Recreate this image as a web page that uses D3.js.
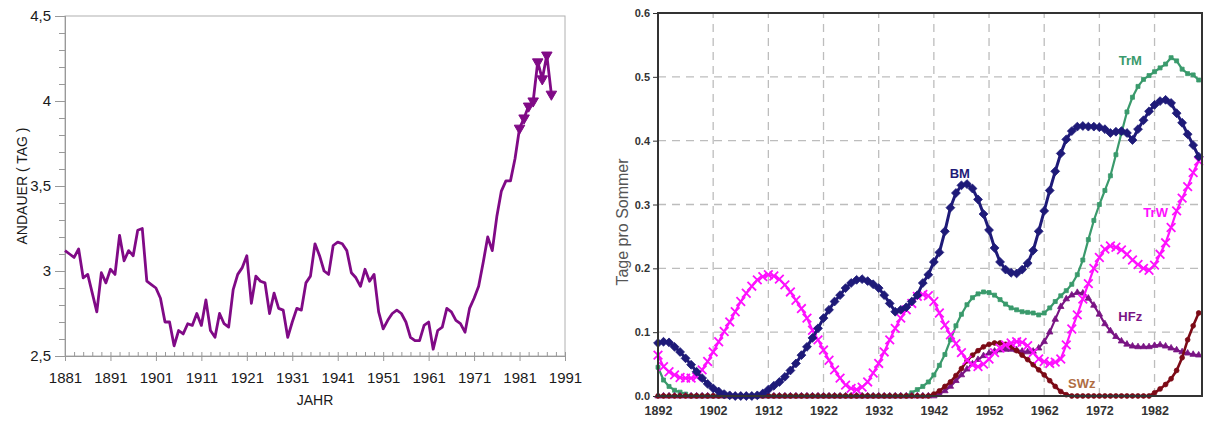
<!DOCTYPE html>
<html>
<head>
<meta charset="utf-8">
<script src="https://cdn.jsdelivr.net/npm/d3@7"></script>
<style>
  body { margin: 0; background: #fff; }
  svg { display: block; font-family: "Liberation Sans", Arial, sans-serif; }
</style>
</head>
<body>
<div id="chart"></div>
<script>
// ---- left panel: Andauer (Tag) per Jahr ----
const leftStart = 1881;
const andauer = [
  3.12, 3.10, 3.08, 3.13, 2.96, 2.98, 2.87, 2.76, 2.99, 2.93,
  3.01, 2.98, 3.21, 3.06, 3.12, 3.09, 3.24, 3.25, 2.94, 2.92,
  2.90, 2.84, 2.70, 2.70, 2.56, 2.65, 2.63, 2.69, 2.68, 2.75,
  2.68, 2.83, 2.65, 2.61, 2.75, 2.69, 2.67, 2.89, 2.98, 3.02,
  3.09, 2.81, 2.97, 2.94, 2.93, 2.75, 2.87, 2.78, 2.77, 2.61,
  2.70, 2.78, 2.77, 2.93, 2.97, 3.16, 3.09, 3.00, 2.98, 3.15,
  3.17, 3.16, 3.12, 2.99, 2.96, 2.91, 3.01, 2.94, 2.98, 2.76,
  2.66, 2.71, 2.75, 2.77, 2.75, 2.70, 2.61, 2.59, 2.59, 2.68,
  2.70, 2.54, 2.65, 2.67, 2.78, 2.76, 2.71, 2.69, 2.64, 2.78,
  2.84, 2.91, 3.05, 3.20, 3.12, 3.32, 3.47, 3.53, 3.53, 3.66,
  3.84, 3.90, 3.97, 4.00, 4.23, 4.13, 4.27, 4.04
];
const markerFrom = 1981;   // years drawn with triangles
const leftXTicks = [1881, 1891, 1901, 1911, 1921, 1931, 1941, 1951, 1961, 1971, 1981, 1991];
const leftYTicks = [2.5, 3, 3.5, 4, 4.5];

// ---- right panel: Tage pro Sommer (1892-1990) ----
const rightStart = 1892;
const BM = [
  0.083, 0.085, 0.084, 0.077, 0.069, 0.059, 0.049, 0.038, 0.028,
  0.019, 0.012, 0.007, 0.003, 0.001, 0, 0, 0, 0, 0.001,
  0.004, 0.010, 0.016, 0.022, 0.030, 0.040, 0.051, 0.064, 0.077, 0.091,
  0.106, 0.122, 0.135, 0.148, 0.158, 0.169, 0.177, 0.182, 0.183, 0.180,
  0.175, 0.169, 0.158, 0.145, 0.132, 0.135, 0.139, 0.148, 0.158, 0.177,
  0.190, 0.210, 0.225, 0.258, 0.295, 0.318, 0.330, 0.332, 0.325, 0.308,
  0.285, 0.260, 0.232, 0.210, 0.198, 0.193, 0.192, 0.198, 0.208, 0.228,
  0.258, 0.290, 0.322, 0.352, 0.380, 0.402, 0.415, 0.422, 0.423, 0.422,
  0.422, 0.421, 0.418, 0.412, 0.414, 0.415, 0.412, 0.401, 0.418, 0.432,
  0.446, 0.456, 0.462, 0.464, 0.459, 0.443, 0.428, 0.410, 0.393, 0.375
];
const TrW = [
  0.064, 0.046, 0.038, 0.033, 0.029, 0.028, 0.028, 0.030, 0.041,
  0.054, 0.069, 0.085, 0.101, 0.116, 0.132, 0.148, 0.161, 0.172, 0.182,
  0.187, 0.190, 0.188, 0.183, 0.174, 0.163, 0.150, 0.137, 0.122, 0.103,
  0.088, 0.072, 0.056, 0.041, 0.028, 0.017, 0.012, 0.010, 0.014, 0.022,
  0.036, 0.051, 0.069, 0.088, 0.106, 0.122, 0.135, 0.145, 0.156, 0.159,
  0.157, 0.148, 0.130, 0.111, 0.096, 0.082, 0.068, 0.056, 0.049, 0.046,
  0.050, 0.058, 0.068, 0.075, 0.080, 0.083, 0.085, 0.084, 0.079, 0.068,
  0.058, 0.054, 0.051, 0.053, 0.058, 0.080, 0.105, 0.127, 0.152, 0.176,
  0.200, 0.217, 0.230, 0.235, 0.233, 0.229, 0.222, 0.213, 0.206, 0.200,
  0.197, 0.205, 0.222, 0.240, 0.264, 0.290, 0.310, 0.328, 0.350, 0.368
];
const TrM = [
  0.045, 0.025, 0.015, 0.009, 0.006, 0.003, 0, 0, 0,
  0, 0, 0, 0, 0, 0, 0, 0, 0, 0,
  0, 0, 0, 0, 0, 0, 0, 0, 0, 0,
  0, 0, 0, 0, 0, 0, 0, 0, 0, 0,
  0, 0, 0, 0, 0, 0, 0, 0.005, 0.010, 0.015,
  0.022, 0.033, 0.048, 0.065, 0.088, 0.110, 0.128, 0.143, 0.154, 0.160,
  0.163, 0.162, 0.158, 0.151, 0.144, 0.138, 0.135, 0.132, 0.131, 0.130,
  0.127, 0.130, 0.138, 0.148, 0.157, 0.165, 0.175, 0.190, 0.213, 0.245,
  0.275, 0.300, 0.322, 0.345, 0.378, 0.412, 0.445, 0.468, 0.485, 0.496,
  0.502, 0.508, 0.514, 0.520, 0.530, 0.525, 0.512, 0.505, 0.503, 0.495
];
const HFz = [
  0, 0, 0, 0, 0, 0, 0, 0, 0,
  0, 0, 0, 0, 0, 0, 0, 0, 0, 0,
  0, 0, 0, 0, 0, 0, 0, 0, 0, 0,
  0, 0, 0, 0, 0, 0, 0, 0, 0, 0,
  0, 0, 0, 0, 0, 0, 0, 0, 0, 0,
  0, 0, 0.003, 0.008, 0.015, 0.024, 0.033, 0.042, 0.050, 0.057,
  0.063, 0.067, 0.070, 0.072, 0.073, 0.073, 0.072, 0.070, 0.069, 0.070,
  0.075, 0.085, 0.100, 0.120, 0.140, 0.152, 0.158, 0.162, 0.161, 0.153,
  0.142, 0.128, 0.113, 0.102, 0.093, 0.086, 0.081, 0.078, 0.077, 0.077,
  0.077, 0.079, 0.080, 0.078, 0.075, 0.072, 0.069, 0.067, 0.065, 0.064
];
const SWz = [
  0, 0, 0, 0, 0, 0, 0, 0, 0,
  0, 0, 0, 0, 0, 0, 0, 0, 0, 0,
  0, 0, 0, 0, 0, 0, 0, 0, 0, 0,
  0, 0, 0, 0, 0, 0, 0, 0, 0, 0,
  0, 0, 0, 0, 0, 0, 0, 0, 0, 0,
  0, 0.003, 0.008, 0.015, 0.022, 0.032, 0.043, 0.055, 0.064, 0.071,
  0.077, 0.081, 0.083, 0.083, 0.081, 0.077, 0.071, 0.064, 0.057, 0.049,
  0.041, 0.033, 0.024, 0.015, 0.007, 0.002, 0, 0, 0, 0,
  0, 0, 0, 0, 0, 0, 0, 0, 0, 0,
  0, 0.005, 0.011, 0.018, 0.027, 0.040, 0.060, 0.088, 0.110, 0.130
];
const rightXTicks = [1892, 1902, 1912, 1922, 1932, 1942, 1952, 1962, 1972, 1982];
const rightYTicks = [0, 0.1, 0.2, 0.3, 0.4, 0.5, 0.6];

const W = 1205, H = 421;
const svg = d3.select("#chart").append("svg")
    .attr("width", W)
    .attr("height", H);

// ================= left chart =================
const lx = d3.scaleLinear().domain([1881, 1991]).range([65, 565]);
const ly = d3.scaleLinear().domain([2.5, 4.5]).range([356, 16]);
const left = svg.append("g");

left.append("rect")
    .attr("x", lx.range()[0]).attr("y", ly.range()[1])
    .attr("width", lx.range()[1] - lx.range()[0])
    .attr("height", ly.range()[0] - ly.range()[1])
    .attr("fill", "none").attr("stroke", "#b0b0b0");

function styleAxis(g, size, color, weight) {
    g.attr("font-size", size).attr("font-family", null);
    g.selectAll("path.domain").attr("stroke", "#999");
    g.selectAll(".tick line").attr("stroke", "#999");
    g.selectAll("text").attr("fill", color).attr("font-weight", weight);
}

// minor ticks
left.append("g").attr("transform", `translate(${lx.range()[0]},0)`)
    .call(d3.axisLeft(ly).tickValues(d3.range(2.5, 4.51, 0.1)).tickSize(6).tickFormat(""))
    .call(g => styleAxis(g, 14, "#222", "normal"));
left.append("g").attr("transform", `translate(0,${ly.range()[0]})`)
    .call(d3.axisBottom(lx).tickValues(d3.range(1881, 1992, 2)).tickSizeInner(-4).tickSizeOuter(0).tickFormat(""))
    .call(g => styleAxis(g, 14, "#222", "normal"));

left.append("g").attr("transform", `translate(${lx.range()[0]},0)`)
    .call(d3.axisLeft(ly).tickValues(leftYTicks).tickSize(10).tickPadding(4)
        .tickFormat(d => String(d).replace(".", ",")))
    .call(g => styleAxis(g, 15, "#1a1a1a", "normal"));
left.append("g").attr("transform", `translate(0,${ly.range()[0]})`)
    .call(d3.axisBottom(lx).tickValues(leftXTicks).tickSize(5).tickPadding(11).tickFormat(d3.format("d")))
    .call(g => styleAxis(g, 15, "#1a1a1a", "normal"));

const leftData = andauer.map((v, i) => ({ year: leftStart + i, v }));
const purple = "#800a86";

left.append("path")
    .datum(leftData)
    .attr("fill", "none")
    .attr("stroke", purple)
    .attr("stroke-width", 2.8)
    .attr("stroke-linejoin", "round")
    .attr("d", d3.line().x(d => lx(d.year)).y(d => ly(d.v)));

left.selectAll(".tri")
    .data(leftData.filter(d => d.year >= markerFrom))
    .enter().append("path")
    .attr("class", "tri")
    .attr("transform", d => `translate(${lx(d.year)},${ly(d.v)}) rotate(180)`)
    .attr("d", d3.symbol(d3.symbolTriangle, 48))
    .attr("fill", purple).attr("stroke", purple).attr("stroke-width", 1);

left.append("text")
    .attr("transform", `translate(22,${(ly.range()[0] + ly.range()[1]) / 2}) rotate(-90)`)
    .attr("text-anchor", "middle").attr("dominant-baseline", "central")
    .attr("font-size", 14).attr("fill", "#1a1a1a")
    .text("ANDAUER ( TAG )");
left.append("text")
    .attr("x", (lx.range()[0] + lx.range()[1]) / 2).attr("y", 400)
    .attr("text-anchor", "middle").attr("dominant-baseline", "central")
    .attr("font-size", 14).attr("fill", "#1a1a1a")
    .text("JAHR");

// ================= right chart =================
const rx = d3.scaleLinear().domain([1892, 1990.6]).range([658, 1202]);
const ry = d3.scaleLinear().domain([0, 0.6]).range([396, 13]);
const right = svg.append("g");

// dashed grid
right.append("g").selectAll("line")
    .data(rightYTicks.slice(1, -1))
    .enter().append("line")
    .attr("x1", rx.range()[0]).attr("x2", rx.range()[1])
    .attr("y1", d => ry(d)).attr("y2", d => ry(d))
    .attr("stroke", "#bdbdbd").attr("stroke-width", 1.3).attr("stroke-dasharray", "8,6");
right.append("g").selectAll("line")
    .data(rightXTicks.slice(1))
    .enter().append("line")
    .attr("x1", d => rx(d)).attr("x2", d => rx(d))
    .attr("y1", ry.range()[0]).attr("y2", ry.range()[1])
    .attr("stroke", "#bdbdbd").attr("stroke-width", 1.3).attr("stroke-dasharray", "8,6");

const series = [
    { name: "TrM", values: TrM, color: "#3a9a6c", symbol: d3.symbolSquare, size: 16, width: 2.2, filled: true },
    { name: "HFz", values: HFz, color: "#7a1484", symbol: d3.symbolTriangle, size: 18, width: 2.2, filled: true },
    { name: "SWz", values: SWz, color: "#7c0a16", symbol: d3.symbolCircle, size: 18, width: 2.6, filled: true },
    { name: "TrW", values: TrW, color: "#ff10ff", symbol: d3.symbolTimes, size: 50, width: 2.2, filled: false },
    { name: "BM",  values: BM,  color: "#1e1a78", symbol: d3.symbolDiamond2, size: 50, width: 3, filled: true }
];

const line = d3.line().x(d => rx(d.year)).y(d => ry(d.v));

series.forEach(s => {
    const pts = s.values.map((v, i) => ({ year: rightStart + i, v }));
    const g = right.append("g").attr("class", "series-" + s.name);
    g.append("path")
        .datum(pts)
        .attr("fill", "none")
        .attr("stroke", s.color)
        .attr("stroke-width", s.width)
        .attr("stroke-linejoin", "round")
        .attr("d", line);
    g.selectAll("path.m")
        .data(pts)
        .enter().append("path")
        .attr("class", "m")
        .attr("transform", d => `translate(${rx(d.year)},${ry(d.v)})`)
        .attr("d", d3.symbol(s.symbol, s.size))
        .attr("fill", s.filled ? s.color : "none")
        .attr("stroke", s.color)
        .attr("stroke-width", s.filled ? 0.8 : 1.8);
});

// frame
right.append("rect")
    .attr("x", rx.range()[0]).attr("y", ry.range()[1])
    .attr("width", rx.range()[1] - rx.range()[0])
    .attr("height", ry.range()[0] - ry.range()[1])
    .attr("fill", "none").attr("stroke", "#333").attr("stroke-width", 2);

// axes
right.append("g").attr("transform", `translate(${rx.range()[0]},0)`)
    .call(d3.axisLeft(ry).tickValues(rightYTicks).tickSize(5).tickPadding(3).tickFormat(d3.format(".1f")))
    .call(g => {
        styleAxis(g, 11, "#333", "bold");
        g.select("path.domain").remove();
        g.selectAll(".tick line").attr("stroke", "#333");
    });
right.append("g").attr("transform", `translate(0,${ry.range()[0]})`)
    .call(d3.axisBottom(rx).tickValues(rightXTicks).tickSize(0).tickPadding(10).tickFormat(d3.format("d")))
    .call(g => {
        styleAxis(g, 12.5, "#333", "bold");
        g.select("path.domain").remove();
    });

right.append("text")
    .attr("transform", `translate(622,222) rotate(-90)`)
    .attr("text-anchor", "middle").attr("dominant-baseline", "central")
    .attr("font-size", 16).attr("fill", "#555")
    .text("Tage pro Sommer");

// series labels
const seriesLabels = [
    { text: "BM",  year: 1946.7, v: 0.349, color: "#1e1a78" },
    { text: "TrM", year: 1977.6, v: 0.525, color: "#3a9a6c" },
    { text: "TrW", year: 1982.2, v: 0.287, color: "#ff10ff" },
    { text: "HFz", year: 1977.6, v: 0.124, color: "#7a1484" },
    { text: "SWz", year: 1968.8, v: 0.020, color: "#b06e44" }
];
right.selectAll("text.lab")
    .data(seriesLabels)
    .enter().append("text")
    .attr("class", "lab")
    .attr("x", d => rx(d.year)).attr("y", d => ry(d.v))
    .attr("text-anchor", "middle").attr("dominant-baseline", "central")
    .attr("font-size", 13).attr("font-weight", "bold")
    .attr("fill", d => d.color)
    .text(d => d.text);
</script>
</body>
</html>
